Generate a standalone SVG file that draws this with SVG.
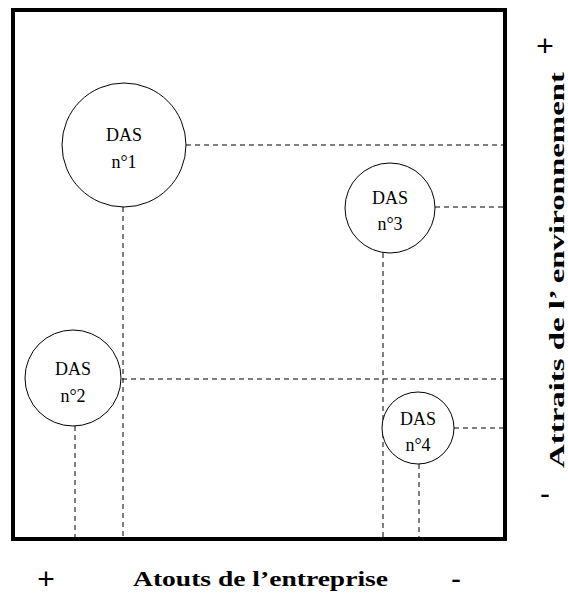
<svg xmlns="http://www.w3.org/2000/svg" width="568" height="597" viewBox="0 0 568 597">
  <style>
    .frame { fill: none; stroke: #000; stroke-width: 4; }
    .das { fill: #fff; stroke: #000; stroke-width: 1; }
    .guide { fill: none; stroke: #000; stroke-width: 1; stroke-dasharray: 5 4; }
    .lbl { font-family: "Liberation Serif", "Times New Roman", serif; font-size: 18px; fill: #000; text-anchor: middle; }
    .axis { font-family: "Liberation Serif", "Times New Roman", serif; font-size: 22px; font-weight: bold; fill: #000; }
    .sign { font-family: "Liberation Sans", Arial, sans-serif; font-size: 30px; fill: #000; text-anchor: middle; }
  </style>
  <rect width="568" height="597" fill="#fff"/>

  <!-- matrix frame -->
  <rect class="frame" x="13" y="10" width="492" height="529"/>

  <!-- dashed projections to the axes -->
  <g id="connectors">
    <line class="guide" x1="186" y1="145" x2="503" y2="145"/>
    <line class="guide" x1="123" y1="207" x2="123" y2="537"/>
    <line class="guide" x1="435" y1="207" x2="503" y2="207"/>
    <line class="guide" x1="383" y1="253" x2="383" y2="537"/>
    <line class="guide" x1="122" y1="379" x2="503" y2="379"/>
    <line class="guide" x1="75" y1="426" x2="75" y2="537"/>
    <line class="guide" x1="454" y1="428" x2="503" y2="428"/>
    <line class="guide" x1="419" y1="464" x2="419" y2="537"/>
  </g>

  <g id="das1">
    <circle class="das" cx="124" cy="145" r="62"/>
    <text class="lbl" x="124" y="141">DAS</text>
    <text class="lbl" x="124" y="168">n°1</text>
  </g>
  <g id="das3">
    <circle class="das" cx="390" cy="208" r="45"/>
    <text class="lbl" x="390" y="204">DAS</text>
    <text class="lbl" x="390" y="230">n°3</text>
  </g>
  <g id="das2">
    <circle class="das" cx="73" cy="378" r="48"/>
    <text class="lbl" x="73" y="375">DAS</text>
    <text class="lbl" x="73" y="402">n°2</text>
  </g>
  <g id="das4">
    <circle class="das" cx="418" cy="428" r="36"/>
    <text class="lbl" x="418" y="425">DAS</text>
    <text class="lbl" x="418" y="451">n°4</text>
  </g>

  <!-- vertical axis -->
  <g id="axis-y">
    <text class="sign" x="545" y="56">+</text>
    <text class="sign" x="545" y="504">-</text>
    <text class="axis" transform="translate(564,468) rotate(-90)" x="0" y="0" textLength="396" lengthAdjust="spacingAndGlyphs">Attraits de l’ environnement</text>
  </g>

  <!-- horizontal axis -->
  <g id="axis-x">
    <text class="sign" x="46" y="589">+</text>
    <text class="sign" x="456" y="589">-</text>
    <text class="axis" x="133" y="586" textLength="255" lengthAdjust="spacingAndGlyphs">Atouts de l’entreprise</text>
  </g>
</svg>
